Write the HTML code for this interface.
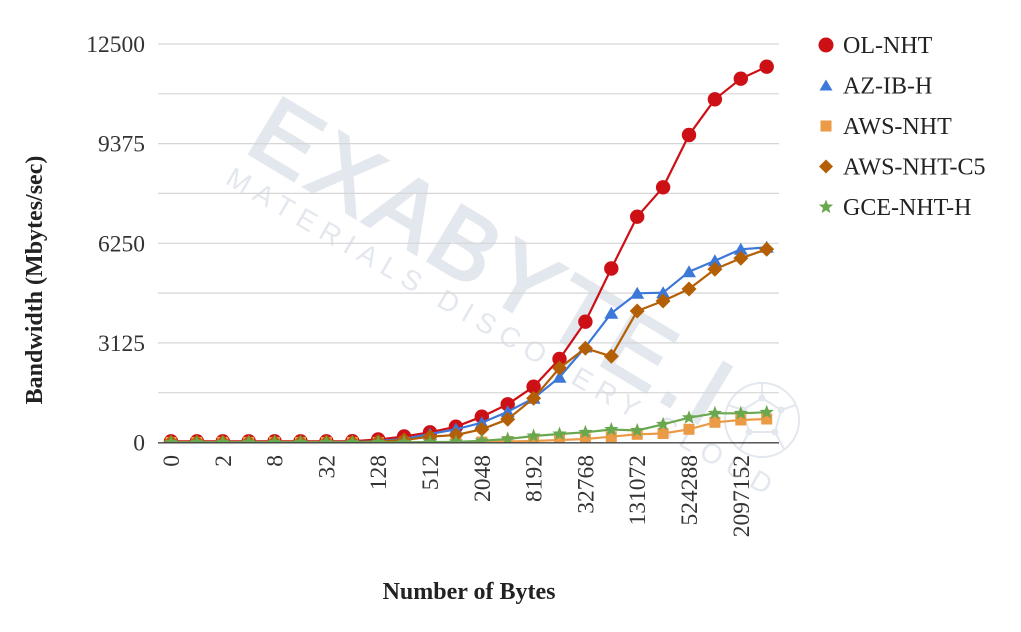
<!DOCTYPE html>
<html>
<head>
<meta charset="utf-8">
<style>
  html, body { margin:0; padding:0; background:#ffffff; }
  svg { display:block; }
  .tick { font-family:"Liberation Serif", serif; font-size:23.5px; fill:#333333; }
  .leg { font-family:"Liberation Serif", serif; font-size:24px; fill:#222222; }
  .title { font-family:"Liberation Serif", serif; font-size:24px; font-weight:bold; fill:#222222; }
</style>
</head>
<body>
<svg width="1021" height="632" viewBox="0 0 1021 632" xmlns="http://www.w3.org/2000/svg">
  <defs>
    <clipPath id="plot"><rect x="150" y="20" width="640" height="423"/></clipPath>
    <marker id="mc" markerUnits="userSpaceOnUse" markerWidth="20" markerHeight="20" refX="10" refY="10" overflow="visible">
      <circle cx="10" cy="10" r="7.2" fill="#cc1016"/>
    </marker>
    <marker id="mt" markerUnits="userSpaceOnUse" markerWidth="20" markerHeight="20" refX="10" refY="10" overflow="visible">
      <polygon points="10,3.5 17,15.5 3,15.5" fill="#3c78d8"/>
    </marker>
    <marker id="ms" markerUnits="userSpaceOnUse" markerWidth="20" markerHeight="20" refX="10" refY="10" overflow="visible">
      <rect x="4.5" y="4.5" width="11" height="11" fill="#eb9a45"/>
    </marker>
    <marker id="md" markerUnits="userSpaceOnUse" markerWidth="20" markerHeight="20" refX="10" refY="10" overflow="visible">
      <polygon points="10,2.5 17.5,10 10,17.5 2.5,10" fill="#b45f06"/>
    </marker>
    <marker id="mg" markerUnits="userSpaceOnUse" markerWidth="20" markerHeight="20" refX="10" refY="10" overflow="visible">
      <polygon points="10,2.5 11.88,7.41 17.13,7.68 13.04,10.99 14.41,16.07 10,13.2 5.59,16.07 6.96,10.99 2.87,7.68 8.12,7.41" fill="#6aa84f"/>
    </marker>
  </defs>

  <rect x="0" y="0" width="1021" height="632" fill="#ffffff"/>

  <!-- watermark -->
  <g fill="#e3e7ee">
    <text transform="translate(243,150) rotate(31)" font-family="Liberation Sans, DejaVu Sans, sans-serif" font-size="95" letter-spacing="6" stroke="#e3e7ee" stroke-width="3">EXABYTE.I</text>
    <text transform="translate(224,183) rotate(30)" font-family="Liberation Sans, DejaVu Sans, sans-serif" font-size="28" textLength="625" lengthAdjust="spacing">MATERIALS DISCOVERY CLOUD</text>
  </g>
  <g fill="none" stroke="#e3e7ee" stroke-width="2">
    <circle cx="762" cy="420" r="37"/>
    <polygon points="762,398 781,410 775,432 749,432 743,410"/>
    <line x1="762" y1="398" x2="762" y2="384"/>
    <line x1="781" y1="410" x2="796" y2="405"/>
    <line x1="775" y1="432" x2="784" y2="449"/>
    <line x1="749" y1="432" x2="740" y2="449"/>
    <line x1="743" y1="410" x2="728" y2="405"/>
  </g>
  <g fill="#e3e7ee">
    <circle cx="762" cy="398" r="3.5"/><circle cx="781" cy="410" r="3.5"/><circle cx="775" cy="432" r="3.5"/>
    <circle cx="749" cy="432" r="3.5"/><circle cx="743" cy="410" r="3.5"/>
  </g>

  <!-- gridlines -->
  <g stroke="#d6d6d6" stroke-width="1.2">
    <line x1="158" y1="44" x2="779" y2="44"/>
    <line x1="158" y1="93.8" x2="779" y2="93.8"/>
    <line x1="158" y1="143.6" x2="779" y2="143.6"/>
    <line x1="158" y1="193.4" x2="779" y2="193.4"/>
    <line x1="158" y1="243.3" x2="779" y2="243.3"/>
    <line x1="158" y1="293.1" x2="779" y2="293.1"/>
    <line x1="158" y1="342.9" x2="779" y2="342.9"/>
    <line x1="158" y1="392.7" x2="779" y2="392.7"/>
  </g>

  <!-- y tick labels -->
  <g class="tick" text-anchor="end">
    <text x="145" y="52">12500</text>
    <text x="145" y="151.6">9375</text>
    <text x="145" y="251.3">6250</text>
    <text x="145" y="350.9">3125</text>
    <text x="145" y="450.5">0</text>
  </g>

  <!-- x tick labels -->
  <g class="tick" text-anchor="end">
    <text transform="translate(179,455) rotate(-90)">0</text>
    <text transform="translate(230.8,455) rotate(-90)">2</text>
    <text transform="translate(282.6,455) rotate(-90)">8</text>
    <text transform="translate(334.4,455) rotate(-90)">32</text>
    <text transform="translate(386.2,455) rotate(-90)">128</text>
    <text transform="translate(438,455) rotate(-90)">512</text>
    <text transform="translate(489.8,455) rotate(-90)">2048</text>
    <text transform="translate(541.6,455) rotate(-90)">8192</text>
    <text transform="translate(593.4,455) rotate(-90)">32768</text>
    <text transform="translate(645.2,455) rotate(-90)">131072</text>
    <text transform="translate(697,455) rotate(-90)">524288</text>
    <text transform="translate(748.8,455) rotate(-90)">2097152</text>
  </g>

  <!-- axis titles -->
  <text class="title" text-anchor="middle" transform="translate(42,280) rotate(-90)">Bandwidth (Mbytes/sec)</text>
  <text class="title" text-anchor="middle" x="469" y="599">Number of Bytes</text>

  <!-- series -->
  <g clip-path="url(#plot)" fill="none" stroke-width="2.2" stroke-linejoin="round">
    <polyline stroke="#cc1016" marker-start="url(#mc)" marker-mid="url(#mc)" marker-end="url(#mc)"
      points="171,441.3 196.9,441.3 222.8,441.3 248.7,441.3 274.6,441.3 300.5,441.3 326.4,441.3 352.3,441.2 378.2,439.5 404.1,436.5 430,432.3 455.9,426.7 481.8,416.7 507.7,404.3 533.6,386.7 559.5,359 585.4,321.7 611.3,268.5 637.2,216.7 663.1,187.3 689,135 714.9,99.3 740.8,78.7 766.7,66.7"/>
    <polyline stroke="#3c78d8" marker-start="url(#mt)" marker-mid="url(#mt)" marker-end="url(#mt)"
      points="171,442.3 196.9,442.3 222.8,442.3 248.7,442.3 274.6,442.3 300.5,442.3 326.4,442.3 352.3,442.2 378.2,441 404.1,439 430,434 455.9,429.3 481.8,422.7 507.7,411.7 533.6,398.3 559.5,377.3 585.4,347 611.3,313.3 637.2,293.3 663.1,292.7 689,271.7 714.9,260.7 740.8,249.3 766.7,247.3"/>
    <polyline stroke="#eb9a45" marker-start="url(#ms)" marker-mid="url(#ms)" marker-end="url(#ms)"
      points="171,442.4 196.9,442.4 222.8,442.4 248.7,442.4 274.6,442.4 300.5,442.4 326.4,442.4 352.3,442.4 378.2,442.4 404.1,442.3 430,442.3 455.9,442.2 481.8,442 507.7,441.5 533.6,441 559.5,440 585.4,439 611.3,436.7 637.2,434.3 663.1,433.5 689,429.3 714.9,422.3 740.8,420 766.7,419"/>
    <polyline stroke="#b45f06" marker-start="url(#md)" marker-mid="url(#md)" marker-end="url(#md)"
      points="171,442.3 196.9,442.3 222.8,442.3 248.7,442.3 274.6,442.3 300.5,442.3 326.4,442.3 352.3,442.2 378.2,441.5 404.1,440 430,436.7 455.9,435 481.8,429.3 507.7,419.3 533.6,398.3 559.5,368 585.4,348.3 611.3,356.3 637.2,311 663.1,301 689,289 714.9,269.3 740.8,258.3 766.7,249.3"/>
    <polyline stroke="#6aa84f" marker-start="url(#mg)" marker-mid="url(#mg)" marker-end="url(#mg)"
      points="171,442.3 196.9,442.3 222.8,442.3 248.7,442.3 274.6,442.3 300.5,442.3 326.4,442.3 352.3,442.3 378.2,442.3 404.1,442.2 430,442.1 455.9,441.8 481.8,440.8 507.7,439 533.6,436 559.5,434 585.4,432.3 611.3,429.5 637.2,430.5 663.1,424.3 689,417.7 714.9,413.3 740.8,413.3 766.7,412.3"/>
  </g>

  <!-- baseline axis -->
  <line x1="158" y1="442.8" x2="779" y2="442.8" stroke="#444444" stroke-width="1.4"/>

  <!-- legend -->
  <circle cx="826" cy="45" r="7.5" fill="#cc1016"/>
  <text class="leg" x="843" y="53">OL-NHT</text>
  <polygon points="826,79.5 832.5,90.5 819.5,90.5" fill="#3c78d8"/>
  <text class="leg" x="843" y="93.5">AZ-IB-H</text>
  <rect x="820.5" y="120.5" width="11" height="11" fill="#eb9a45"/>
  <text class="leg" x="843" y="134">AWS-NHT</text>
  <polygon points="826,159.5 833,166.5 826,173.5 819,166.5" fill="#b45f06"/>
  <text class="leg" x="843" y="174.5">AWS-NHT-C5</text>
  <polygon transform="translate(816,197)" points="10,2.5 11.88,7.41 17.13,7.68 13.04,10.99 14.41,16.07 10,13.2 5.59,16.07 6.96,10.99 2.87,7.68 8.12,7.41" fill="#6aa84f"/>
  <text class="leg" x="843" y="215">GCE-NHT-H</text>
</svg>
</body>
</html>
